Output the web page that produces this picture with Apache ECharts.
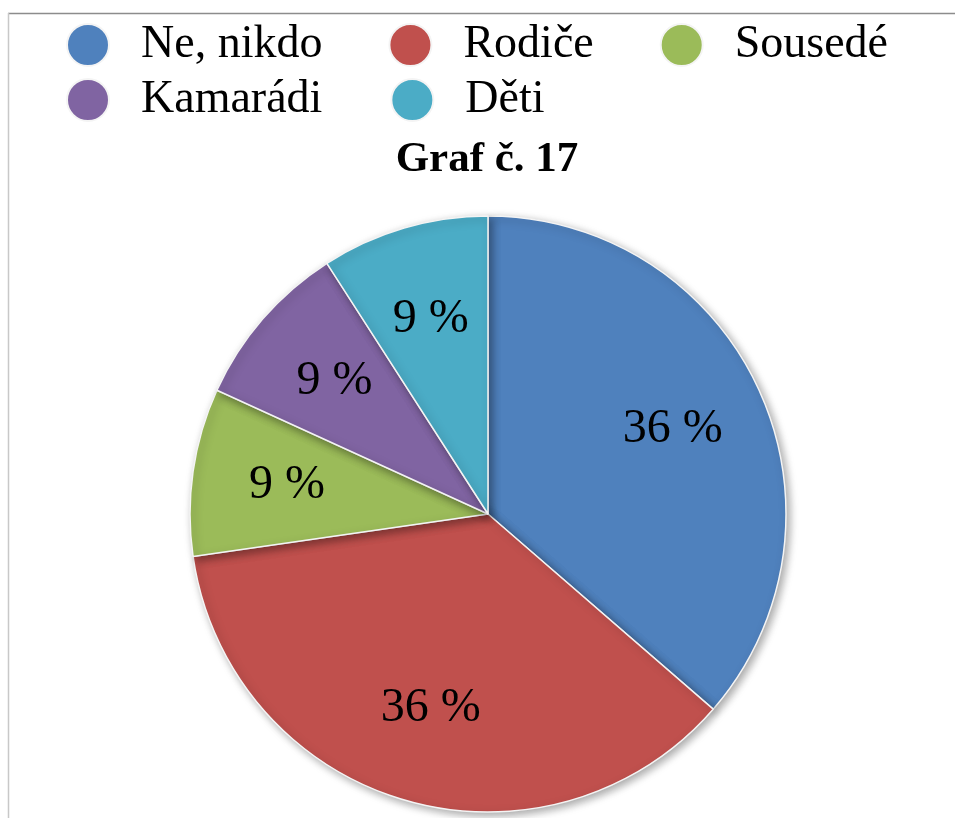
<!DOCTYPE html>
<html>
<head>
<meta charset="utf-8">
<script src="https://cdn.jsdelivr.net/npm/echarts@6/dist/echarts.min.js"></script>
<style>
  html, body { margin: 0; padding: 0; background: #fff; }
  #chart { width: 955px; height: 818px; }
</style>
</head>
<body>
<div id="chart"></div>
<script>
// data
const categories = ['Ne, nikdo', 'Rodiče', 'Sousedé', 'Kamarádi', 'Děti']
const counts = [4, 4, 1, 1, 1]
const colors = ['#4f81bd', '#c0504d', '#9bbb59', '#8064a2', '#4bacc6']
const titleText = 'Graf č. 17'

const serif = '"Liberation Serif", "DejaVu Serif", serif'
const pieData = categories.map((name, i) => ({ name, value: counts[i], itemStyle: { color: colors[i] } }))

// legend laid out in two rows, one legend per row
const legendRow = (names, top, gap) => ({
  data: names,
  icon: 'circle',
  left: 66,
  top: top,
  padding: 0,
  itemWidth: 42,
  itemHeight: 42,
  itemGap: gap,
  selectedMode: false,
  formatter: name => '{t|' + name + '}',
  textStyle: {
    fontFamily: serif,
    fontSize: 46,
    color: '#000',
    rich: {
      t: {
        fontFamily: serif,
        fontSize: 46,
        color: '#000',
        padding: [0, 0, 0, 27]
      }
    }
  }
})

const myChart = echarts.init(document.getElementById('chart'))
myChart.setOption({
  animation: false,
  title: {
    text: titleText,
    left: 482,
    textAlign: 'center',
    top: 133,
    textStyle: {
      fontFamily: serif,
      fontSize: 43,
      fontWeight: 'bold',
      color: '#000'
    }
  },
  legend: [
    legendRow(categories.slice(0, 3), 22, 66),
    legendRow(categories.slice(3), 77, 68)
  ],
  graphic: [
    { type: 'line', shape: { x1: 8, y1: 13.5, x2: 955, y2: 13.5 }, style: { stroke: '#8c8c8c', lineWidth: 1.5 } },
    { type: 'line', shape: { x1: 8.5, y1: 13, x2: 8.5, y2: 818 }, style: { stroke: '#c8c8c8', lineWidth: 1.5 } }
  ],
  series: [
    {
      name: 'pie',
      type: 'pie',
      center: [488, 514],
      radius: [0, 298],
      startAngle: 90,
      clockwise: true,
      silent: true,
      label: { show: false },
      labelLine: { show: false },
      itemStyle: {
        borderColor: '#f4f4f4',
        borderWidth: 1.5,
        shadowBlur: 8,
        shadowOffsetX: 3,
        shadowOffsetY: 3,
        shadowColor: 'rgba(0, 0, 0, 0.35)'
      },
      data: pieData
    },
    {
      // label-only layer, puts the percentages further out than the default inside spot
      name: 'labels',
      type: 'pie',
      center: [488, 514],
      radius: [0, 400],
      startAngle: 90,
      clockwise: true,
      silent: true,
      z: 3,
      itemStyle: { color: 'transparent', borderWidth: 0 },
      label: {
        show: true,
        position: 'inside',
        formatter: p => Math.round(p.percent) + ' %',
        fontFamily: serif,
        fontSize: 48,
        color: '#000'
      },
      labelLine: { show: false },
      data: categories.map((name, i) => ({ name, value: counts[i], itemStyle: { color: 'transparent' } }))
    }
  ]
})
</script>
</body>
</html>
